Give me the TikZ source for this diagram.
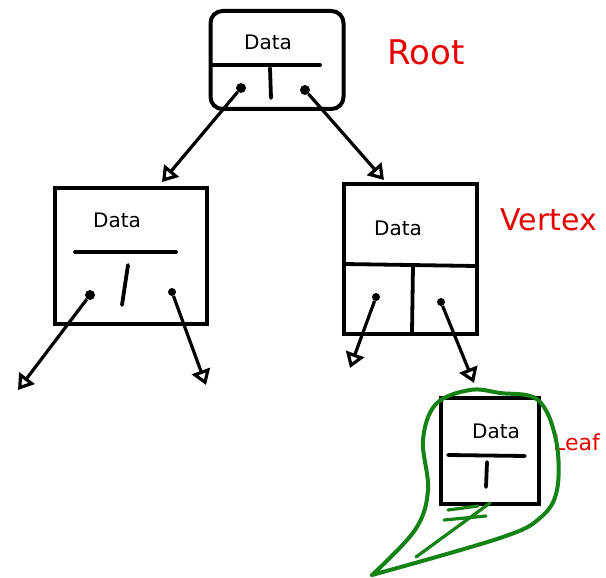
\documentclass[tikz,border=0pt]{standalone}
\usetikzlibrary{arrows.meta}
\usepackage{fontspec}
\setmainfont{DejaVu Sans}
\definecolor{pen}{RGB}{0,0,0}
\definecolor{redpen}{RGB}{230,0,0}
\definecolor{greenpen}{RGB}{20,130,20}
\tikzset{
  box/.style={draw=pen, line width=4pt, inner sep=0pt},
  part/.style={draw=pen, line width=3.8pt, line cap=round},
  dot/.style={circle, fill=pen, inner sep=0pt, minimum size=10pt},
  link/.style={draw=pen, line width=3.2pt, -{Triangle[open, length=15pt, width=19pt, line width=3.2pt]}},
  datatext/.style={font=\fontsize{20}{24}\selectfont},
  tag/.style={text=redpen, font=\fontsize{34}{40}\selectfont},
  blob/.style={draw=greenpen, line width=4pt, line cap=round, line join=round}
}
\begin{document}
\begin{tikzpicture}[x=1pt, y=-1pt]
\clip (0,0) rectangle (606,578);
\fill[white] (0,0) rectangle (606,578);

% Root
\node[box, rounded corners=12pt, minimum width=133pt, minimum height=98pt] (root) at (277,60) {};
\node[datatext] (rootdata) at (268,42) {Data};
\coordinate (rootdivL) at (211,65);
\coordinate (rootdivR) at (320,65);
\draw[part] (rootdivL) -- (rootdivR);
\coordinate (rootmidT) at (270,68);
\coordinate (rootmidB) at (271,98);
\draw[part] (rootmidT) -- (rootmidB);
\node[dot] (rootL) at (241,88) {};
\node[dot] (rootR) at (305,90) {};
\node[tag] (roottag) at (426,52) {Root};

% Left child
\node[box, minimum width=152pt, minimum height=136pt] (lchild) at (131,256) {};
\node[datatext] (ldata) at (117,220) {Data};
\coordinate (ldivL) at (75,252);
\coordinate (ldivR) at (176,252);
\draw[part] (ldivL) -- (ldivR);
\coordinate (lmidT) at (128,265);
\coordinate (lmidB) at (122,305);
\draw[part] (lmidT) -- (lmidB);
\node[dot] (lchildL) at (90,295) {};
\node[dot, minimum size=8pt] (lchildR) at (172,292) {};

% Vertex
\node[box, minimum width=133pt, minimum height=150pt] (vertex) at (410,259) {};
\node[datatext] (vdata) at (398,228) {Data};
\coordinate (vdivL) at (344,264);
\coordinate (vdivR) at (476,266);
\draw[part] (vdivL) -- (vdivR);
\coordinate (vmidT) at (413,266);
\coordinate (vmidB) at (412,333);
\draw[part] (vmidT) -- (vmidB);
\node[dot, minimum size=8pt] (vertexL) at (376,297) {};
\node[dot, minimum size=8pt] (vertexR) at (441,302) {};
\node[tag, font=\fontsize{30}{36}\selectfont] (vertextag) at (549,220) {Vertex};

% Leaf
\node[box, minimum width=98pt, minimum height=106pt] (leaf) at (490,451) {};
\node[datatext] (leafdata) at (496,431) {Data};
\coordinate (leafdivL) at (448,455);
\coordinate (leafdivR) at (525,456);
\draw[part] (leafdivL) -- (leafdivR);
\coordinate (leafmidT) at (487,462);
\coordinate (leafmidB) at (486,487);
\draw[part] (leafmidT) -- (leafmidB);
\node[tag, font=\fontsize{22}{26}\selectfont, anchor=west, inner sep=0pt] (leaftag) at (553,442) {Leaf};

% Connectors
\coordinate (lchildtop) at (162,182);
\coordinate (vertextop) at (384,180);
\coordinate (lleft) at (18,390);
\coordinate (lright) at (206,385);
\coordinate (vleft) at (350,368);
\coordinate (leaftop) at (474,383);
\draw[link] (rootL) -- (lchildtop);
\draw[link] (rootR) -- (vertextop);
\draw[link] (lchildL) -- (lleft);
\draw[link] (lchildR) -- (lright);
\draw[link] (vertexL) -- (vleft);
\draw[link] (vertexR) -- (leaftop);

% Green blob around leaf
\coordinate (tip) at (372,575);
\draw[blob] plot[smooth, tension=0.6] coordinates {
  (372,575) (415,530) (428,490) (423,440) (436,404) (470,390)
  (500,393) (538,400) (556,440) (557,490) (540,518) (500,538) (372,575)};
\coordinate (tailA) at (416,557);
\coordinate (tailB) at (490,503);
\draw[blob, line width=3.2pt] (tailA) -- (tailB);
\coordinate (markA1) at (448,510);
\coordinate (markA2) at (478,506);
\coordinate (markB1) at (444,520);
\coordinate (markB2) at (486,516);
\draw[blob, line width=3.2pt] (markA1) -- (markA2);
\draw[blob, line width=3.2pt] (markB1) -- (markB2);
\end{tikzpicture}
\end{document}
